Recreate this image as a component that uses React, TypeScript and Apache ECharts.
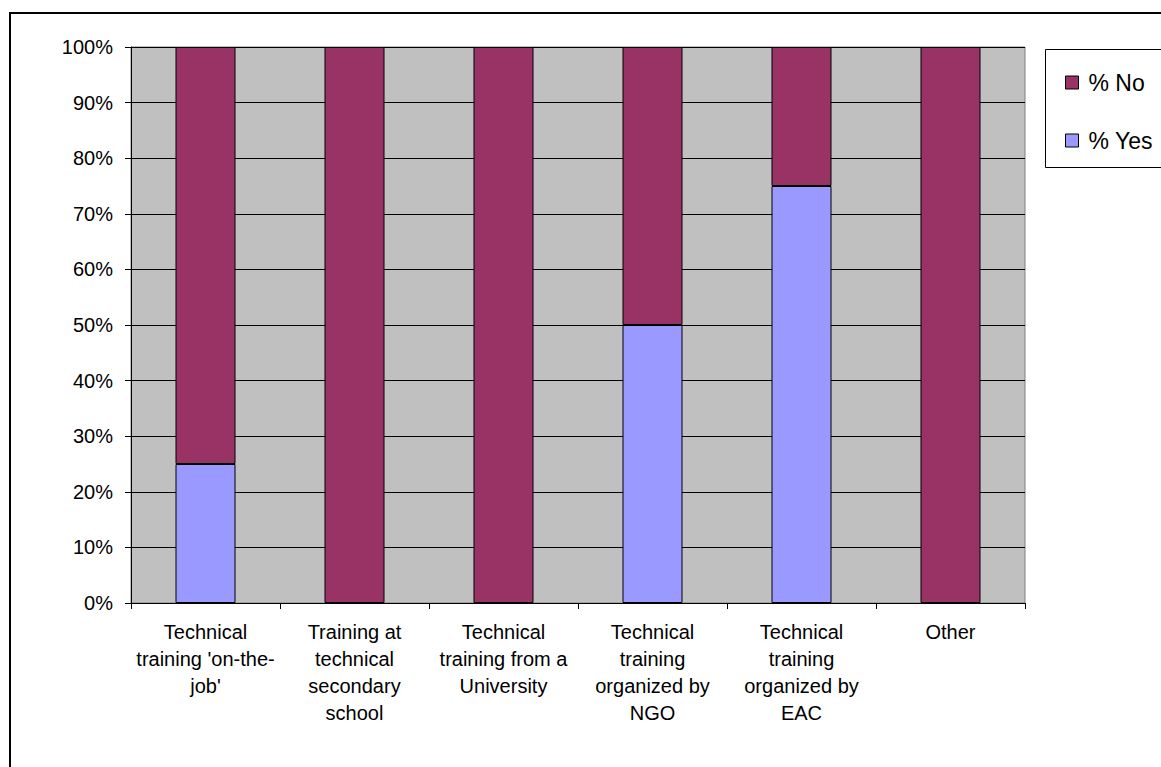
import React, { useEffect, useRef } from "react";
import * as echarts from "echarts";

const categories = [
  "Technical\ntraining 'on-the-\njob'",
  "Training at\ntechnical\nsecondary\nschool",
  "Technical\ntraining from a\nUniversity",
  "Technical\ntraining\norganized by\nNGO",
  "Technical\ntraining\norganized by\nEAC",
  "Other",
];
const yesValues = [25, 0, 0, 50, 75, 0];
const noValues = [75, 100, 100, 50, 25, 100];
const yTicks = { min: 0, max: 100, interval: 10 };

const FONT = "'Liberation Sans', Arial, sans-serif";

export default function App() {
  const ref = useRef<HTMLDivElement>(null);
  useEffect(() => {
    if (!ref.current) return;
    const chart = echarts.init(ref.current, null, { renderer: "svg" });
    chart.setOption({
      animation: false,
      backgroundColor: "#ffffff",
      textStyle: { fontFamily: FONT, color: "#000" },
      grid: {
        left: 131,
        top: 47,
        width: 894,
        height: 556,
        show: true,
        backgroundColor: "#C0C0C0",
        borderColor: "#808080",
        borderWidth: 1,
        containLabel: false,
      },
      legend: {
        orient: "vertical",
        left: 1060,
        top: 66,
        itemWidth: 13,
        itemHeight: 13,
        itemGap: 35,
        icon: "rect",
        textStyle: {
          fontSize: 23,
          fontFamily: FONT,
          color: "#000",
          lineHeight: 23,
          padding: [0, 0, 0, 5],
        },
        data: [
          { name: "% No", itemStyle: { borderColor: "#000", borderWidth: 1 } },
          { name: "% Yes", itemStyle: { borderColor: "#000", borderWidth: 1 } },
        ],
      },
      xAxis: {
        type: "category",
        data: categories,
        boundaryGap: true,
        axisLine: { show: true, lineStyle: { color: "#000", width: 1 } },
        axisTick: { show: true, length: 6, alignWithLabel: false, lineStyle: { color: "#000" } },
        axisLabel: {
          interval: 0,
          margin: 15,
          fontSize: 20,
          lineHeight: 27,
          color: "#000",
          fontFamily: FONT,
          align: "center",
        },
        splitLine: { show: false },
      },
      yAxis: {
        type: "value",
        min: yTicks.min,
        max: yTicks.max,
        interval: yTicks.interval,
        axisLine: { show: true, lineStyle: { color: "#000", width: 1 } },
        axisTick: { show: true, length: 6, lineStyle: { color: "#000" } },
        axisLabel: {
          formatter: "{value}%",
          fontSize: 20,
          margin: 18,
          color: "#000",
          fontFamily: FONT,
        },
        splitLine: { show: true, lineStyle: { color: "#000", width: 1 } },
      },
      series: [
        {
          name: "% Yes",
          type: "bar",
          stack: "total",
          data: yesValues.map((v) => (v === 0 ? "-" : v)),
          barWidth: 60,
          itemStyle: { color: "#9999FF", borderColor: "#000", borderWidth: 1 },
        },
        {
          name: "% No",
          type: "bar",
          stack: "total",
          data: noValues.map((v) => (v === 0 ? "-" : v)),
          barWidth: 60,
          itemStyle: { color: "#993366", borderColor: "#000", borderWidth: 1 },
        },
      ],
      graphic: [
        {
          type: "rect",
          shape: { x: 10, y: 13, width: 1300, height: 900 },
          style: { fill: "none", stroke: "#000", lineWidth: 2 },
          silent: true,
          z: 100,
        },
        {
          type: "rect",
          shape: { x: 1045.5, y: 49.5, width: 200, height: 118 },
          style: { fill: "none", stroke: "#000", lineWidth: 1 },
          silent: true,
          z: 100,
        },
      ],
    });
    return () => chart.dispose();
  }, []);
  return (
    <div
      ref={ref}
      style={{ position: "fixed", left: 0, top: 0, width: 1161, height: 767 }}
    />
  );
}
